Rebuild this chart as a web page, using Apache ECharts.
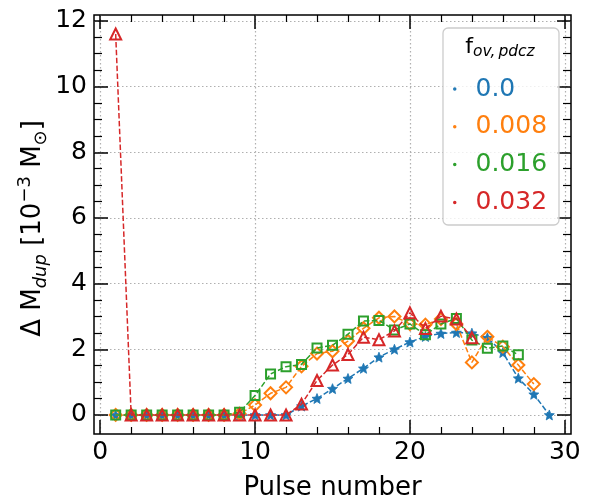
<!DOCTYPE html>
<html>
<head>
<meta charset="utf-8">
<script src="https://cdn.jsdelivr.net/npm/echarts@6/dist/echarts.min.js"></script>
<style>html,body{margin:0;padding:0;background:#fff;}#c{width:592px;height:500px;}</style>
</head>
<body>
<div id="c"></div>
<script>
// ---- data ----
const pulses = [1,2,3,4,5,6,7,8,9,10,11,12,13,14,15,16,17,18,19,20,21,22,23,24,25,26,27,28,29];
const seriesNames = ['0.0', '0.008', '0.016', '0.032'];
const dup_0000 = [0,0,0,0,0,0,0,0,0,0,0,0,0.27,0.50,0.80,1.11,1.42,1.76,2.00,2.22,2.39,2.48,2.51,2.49,2.35,1.90,1.12,0.63,0.00];
const dup_0008 = [0,0,0,0,0,0,0,0,0.04,0.30,0.66,0.84,1.48,1.87,1.94,2.25,2.64,2.96,3.00,2.77,2.75,2.92,2.77,1.60,2.38,2.08,1.52,0.94];
const dup_0016 = [0,0,0,0,0,0,0,0,0.08,0.59,1.25,1.47,1.54,2.04,2.12,2.46,2.86,2.88,2.59,2.77,2.44,2.77,2.94,2.28,2.03,2.10,1.83];
const dup_0032 = [11.6,0,0,0,0,0,0,0,0,0,0,0,0.33,1.05,1.52,1.84,2.37,2.29,2.56,3.11,2.63,3.01,2.92,2.35];
const xTicks = [0, 10, 20, 30];
const yTicks = [0, 2, 4, 6, 8, 10, 12];

const colors = ['#1f77b4', '#ff7f0e', '#2ca02c', '#d62728'];
const FONT = 'DejaVu Sans';
const STAR = 'path://M0,-10 L2.6,-3.6 L9.5,-3.1 L4.2,1.4 L5.9,8.1 L0,4.4 L-5.9,8.1 L-4.2,1.4 L-9.5,-3.1 L-2.6,-3.6 Z';

function pairs(vals) { return vals.map((v, i) => [pulses[i], v]); }

const chart = echarts.init(document.getElementById('c'), null, {renderer: 'canvas'});

const gridLine = {show: true, lineStyle: {color: '#b0b0b0', width: 1.2, type: [1.5, 2.5]}};
const L = 94, R = 571, T = 15, B = 434;
const xmin = -0.4, xmax = 30.4, ymin = -0.58, ymax = 12.18;
const sx = (R - L) / (xmax - xmin), sy = (B - T) / (ymax - ymin);
const x0px = L + (xTicks[0] - xmin) * sx, x30px = L + (xTicks[xTicks.length - 1] - xmin) * sx;
const y12px = T + (ymax - yTicks[yTicks.length - 1]) * sy, y0px = T + (ymax - yTicks[0]) * sy;

function tickAxisX(pos, labels, split) {
  return {
    type: 'value', gridIndex: 1, position: pos, min: xTicks[0], max: xTicks[xTicks.length - 1], interval: 10,
    axisLine: {show: false},
    axisTick: {show: true, inside: true, length: 14, lineStyle: {color: '#000', width: 1.5}},
    minorTick: {show: true, splitNumber: 5, length: 7, lineStyle: {color: '#000', width: 1.2}},
    axisLabel: {show: labels, color: '#000', fontSize: 25, fontFamily: FONT, margin: 6},
    splitLine: split ? gridLine : {show: false},
    minorSplitLine: {show: false}
  };
}
function tickAxisY(pos, labels, split) {
  return {
    type: 'value', gridIndex: 2, position: pos, min: yTicks[0], max: yTicks[yTicks.length - 1], interval: 2,
    axisLine: {show: false},
    axisTick: {show: true, inside: true, length: 14, lineStyle: {color: '#000', width: 1.5}},
    minorTick: {show: true, splitNumber: 4, length: 8, lineStyle: {color: '#000', width: 1.2}},
    axisLabel: {show: labels, color: '#000', fontSize: 25, fontFamily: FONT, margin: 7},
    splitLine: split ? gridLine : {show: false},
    minorSplitLine: {show: false}
  };
}
const hidden = (gi) => ({type: 'value', gridIndex: gi, min: 0, max: 1, show: false});

const symbols = [STAR, 'diamond', 'rect', 'triangle'];
const sizes = [10, [12, 12], 9, 11];
const dataSets = [dup_0000, dup_0008, dup_0016, dup_0032];

const series = dataSets.map((vals, k) => ({
  name: seriesNames[k],
  type: 'line',
  xAxisIndex: 0, yAxisIndex: 0,
  data: pairs(vals),
  symbol: symbols[k],
  symbolSize: sizes[k],
  showSymbol: true, showAllSymbol: true,
  animation: false,
  lineStyle: {color: colors[k], width: 1.5, type: [5.5, 2.4]},
  itemStyle: k === 0
    ? {color: colors[k], borderColor: colors[k], borderWidth: 0.8}
    : {color: 'rgba(0,0,0,0)', borderColor: colors[k], borderWidth: 2},
  emphasis: {disabled: true},
  z: 2 + k
}));

const option = {
  animation: false,
  backgroundColor: '#fff',
  textStyle: {fontFamily: FONT},
  grid: [
    {left: L, top: T, width: R - L, height: B - T, show: true, borderColor: '#000', borderWidth: 1.5, backgroundColor: 'transparent', containLabel: false, outerBoundsMode: 'none'},
    {left: x0px, top: T, width: x30px - x0px, height: B - T, containLabel: false, outerBoundsMode: 'none'},
    {left: L, top: y12px, width: R - L, height: y0px - y12px, containLabel: false, outerBoundsMode: 'none'}
  ],
  xAxis: [
    {type: 'value', gridIndex: 0, min: xmin, max: xmax,
     axisLine: {show: false}, axisTick: {show: false}, axisLabel: {show: false}, splitLine: {show: false},
     name: 'Pulse number', nameLocation: 'middle', nameGap: 41,
     nameTextStyle: {color: '#000', fontSize: 26, fontFamily: FONT}},
    tickAxisX('bottom', true, true),
    tickAxisX('top', false, false),
    hidden(2)
  ],
  yAxis: [
    {type: 'value', gridIndex: 0, min: ymin, max: ymax,
     axisLine: {show: false}, axisTick: {show: false}, axisLabel: {show: false}, splitLine: {show: false},
     name: '{a|Δ M}{s|dup}{a| [10}{p|−3}{a| M}{o|⊙}{a|]}',
     nameLocation: 'middle', nameGap: 44, nameRotate: 90,
     nameTextStyle: {
       color: '#000', fontSize: 26, fontFamily: FONT, padding: [0, 8, 0, 0],
       rich: {
         a: {fontSize: 26, lineHeight: 34, fontFamily: FONT, color: '#000'},
         s: {fontSize: 18, lineHeight: 23, fontStyle: 'italic', fontFamily: FONT, color: '#000', verticalAlign: 'bottom'},
         o: {fontSize: 18, lineHeight: 23, fontFamily: FONT, color: '#000', verticalAlign: 'bottom'},
         p: {fontSize: 18, lineHeight: 22, fontFamily: FONT, color: '#000', verticalAlign: 'top'}
       }
     }},
    hidden(1),
    tickAxisY('left', true, true),
    tickAxisY('right', false, false)
  ],
  legend: {
    orient: 'vertical', left: 448, top: 69, itemGap: 7.8, padding: 5,
    icon: 'circle', itemWidth: 1.5, itemHeight: 1.5, selectedMode: false, z: 6,
    data: seriesNames.map((n, k) => ({name: n, itemStyle: {color: colors[k]},
      textStyle: {color: colors[k], fontSize: 25, lineHeight: 30, fontFamily: FONT, padding: [0, 0, 0, 15]}}))
  },
  graphic: [
    {type: 'rect', z: 4, silent: true,
     shape: {x: 443, y: 28, width: 116, height: 197, r: 5},
     style: {fill: 'rgba(255,255,255,0.8)', stroke: '#cccccc', lineWidth: 1.3}},
    {type: 'text', z: 5, silent: true, x: 500, y: 47,
     style: {text: '{f|f}{s|ov,\u2009pdcz}', align: 'center', verticalAlign: 'middle',
       rich: {
         f: {fontSize: 22, lineHeight: 26, fontFamily: FONT, fill: '#000'},
         s: {fontSize: 15.5, lineHeight: 15, fontStyle: 'italic', fontFamily: FONT, fill: '#000', verticalAlign: 'bottom'}
       }}}
  ],
  series: series
};
chart.setOption(option);
</script>
</body>
</html>
